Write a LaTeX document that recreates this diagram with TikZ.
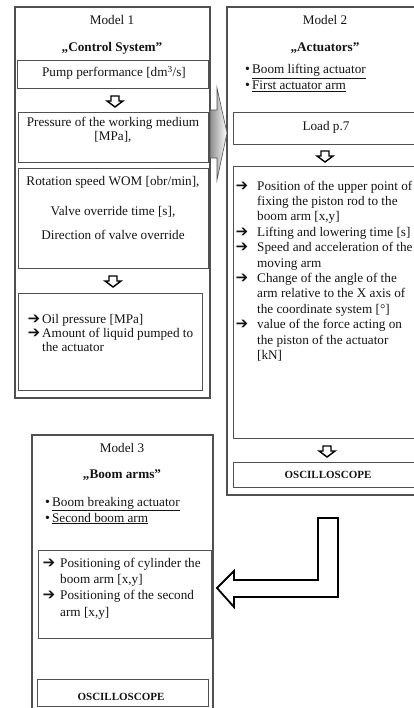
\documentclass[tikz,border=0pt]{standalone}
\usepackage{fontspec}
\setmainfont{Liberation Serif}
\usepackage{pifont}
\definecolor{framec}{RGB}{80,80,80}
\definecolor{inkc}{RGB}{20,20,20}
\definecolor{shadec}{RGB}{140,140,140}
\newcommand{\arr}[1]{\makebox[#1][l]{\ding{212}}}
\newcommand{\hng}[1]{\hspace*{#1}}
\newcommand{\bul}{{\fontsize{14}{14}\selectfont\textbullet}\hspace{2pt}}

\begin{document}
\begin{tikzpicture}[x=1pt, y=-1pt, line join=miter,
  outer/.style={draw=framec, line width=1.1pt},
  inner/.style={draw=framec, line width=0.9pt},
  txt/.style={inkc, font=\fontsize{13.2}{14}\selectfont, inner sep=0pt},
  ttl/.style={txt, font=\fontsize{13.2}{14}\selectfont\bfseries},
  osc/.style={inkc, font=\fontsize{11}{12}\selectfont\bfseries, inner sep=0pt},
  lst/.style={inkc, anchor=north west, align=left, inner sep=0pt},
  bull/.style={txt, anchor=base west},
  hollow/.style={draw=black, line width=1.4pt, fill=white}]
  \useasboundingbox (0,0) rectangle (414,708);
  \clip (0,0) rectangle (414,708);

  % model 1 "control system"
  \draw[outer] (15,7) rectangle (210,398);
  \draw[inner] (17,60) rectangle (208,88);
  \draw[inner] (18,112) rectangle (208,162);
  \draw[inner] (18,168) rectangle (208,268);
  \draw[inner] (18,293) rectangle (202,390);
  \node[txt] (m1) at (112,20) {Model 1};
  \node[ttl] (m1t) at (112,48) {„Control System”};
  \node[txt] (pump) at (114,73) {Pump performance [dm\textsuperscript{3}/s]};
  \node[txt] (press) at (113,123) {Pressure of the working medium};
  \node[txt] (mpa) at (113,137) {[MPa],};
  \node[txt] (rot) at (113,182) {Rotation speed WOM [obr/min],};
  \node[txt] (valve) at (113,212) {Valve override time [s],};
  \node[txt] (dir) at (113,235) {Direction of valve override};
  \node[lst, font=\fontsize{13.2}{14}\selectfont] (out1) at (28,313.2)
    {\strut\arr{14pt}Oil pressure [MPa]\\
     \arr{14pt}Amount of liquid pumped to\\
     \hng{14pt}the actuator};

  % model 2 "actuators"
  \draw[outer] (227,7) rectangle (440,495);
  \draw[inner] (233,112) rectangle (440,144);
  \draw[inner] (233,166) rectangle (440,438);
  \draw[inner] (233,462) rectangle (440,487);
  \node[txt] (m2) at (325,20) {Model 2};
  \node[ttl] (m2t) at (325,48) {„Actuators”};
  \node[bull] (b21) at (245,74) {\bul\underline{Boom lifting actuator}};
  \node[bull] (b22) at (245,90) {\bul\underline{First actuator arm}};
  \node[txt] (load) at (326,127) {Load p.7};
  \node[lst, font=\fontsize{13.2}{15.4}\selectfont] (out2) at (236,179.2)
    {\strut\arr{21pt}Position of the upper point of\\
     \hng{21pt}fixing the piston rod to the\\
     \hng{21pt}boom arm [x,y]\\
     \arr{21pt}Lifting and lowering time [s]\\
     \arr{21pt}Speed and acceleration of the\\
     \hng{21pt}moving arm\\
     \arr{21pt}Change of the angle of the\\
     \hng{21pt}arm relative to the X axis of\\
     \hng{21pt}the coordinate system [°]\\
     \arr{21pt}value of the force acting on\\
     \hng{21pt}the piston of the actuator\\
     \hng{21pt}[kN]};
  \node[osc] (osc2) at (328,475) {OSCILLOSCOPE};

  % model 3 "boom arms"
  \draw[outer] (32,435) rectangle (213,730);
  \draw[inner] (38,550) rectangle (211,638);
  \draw[inner] (37,679) rectangle (208,706);
  \node[txt] (m3) at (122,448) {Model 3};
  \node[ttl] (m3t) at (122,475) {„Boom arms”};
  \node[bull] (b31) at (45,506) {\bul\underline{Boom breaking actuator}};
  \node[bull] (b32) at (45,522) {\bul\underline{Second boom arm}};
  \node[lst, font=\fontsize{13.2}{16.3}\selectfont] (out3) at (43,555.6)
    {\strut\arr{17pt}Positioning of cylinder the\\
     \hng{17pt}boom arm [x,y]\\
     \arr{17pt}Positioning of the second\\
     \hng{17pt}arm [x,y]};
  \node[osc] (osc3) at (121,697) {OSCILLOSCOPE};

  % small hollow arrows between boxes
  \foreach \ax/\ay in {115/96, 113/276, 325/151, 327/446}{
    \draw[hollow, shift={(\ax,\ay)}]
      (-4,0) -- (4,0) -- (4,5) -- (8,5) -- (0,11) -- (-8,5) -- (-4,5) -- cycle;
  }

  % shaded arrow model 1 -> model 2
  \shade[left color=shadec, right color=white, draw=framec, line width=0.6pt]
    (210,110) -- (217,110) -- (217,88) -- (227,133) -- (217,180)
    -- (217,158) -- (210,158) -- cycle;

  % bent arrow model 2 -> model 3
  \draw[black, line width=1.8pt, fill=white]
    (318,518) -- (338,518) -- (338,597) -- (234,597) -- (234,607)
    -- (217,588) -- (234,571) -- (234,580) -- (318,580) -- cycle;
\end{tikzpicture}
\end{document}
